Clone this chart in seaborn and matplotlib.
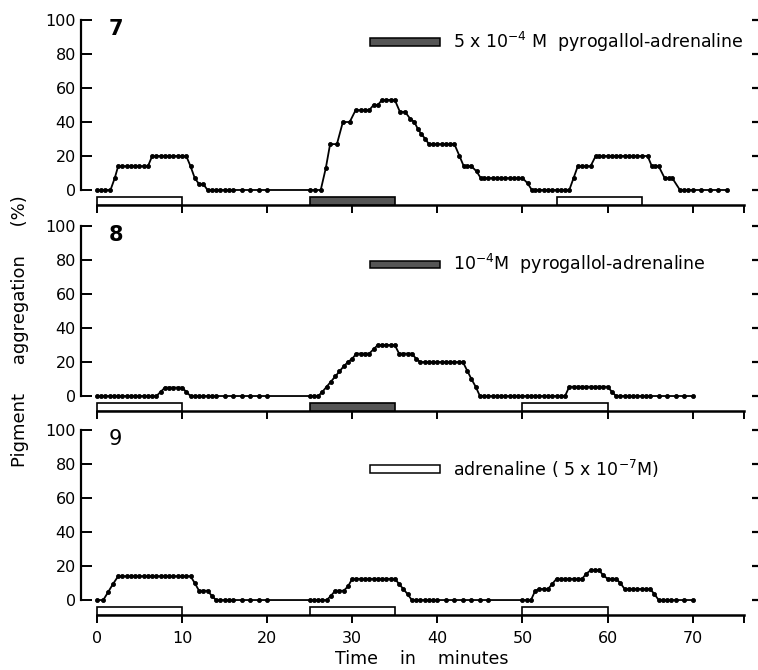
import numpy as np
import pandas as pd
import matplotlib
matplotlib.use("Agg")
import matplotlib.pyplot as plt
import seaborn as sns

sns.set_theme(style="white")
plt.rcParams["font.family"] = ["DejaVu Sans"]
plt.rcParams["text.color"] = "black"
plt.rcParams["axes.labelcolor"] = "black"
plt.rcParams["xtick.color"] = "black"
plt.rcParams["ytick.color"] = "black"

# ---------------- data ----------------
panel_ids = ["7", "8", "9"]
legend_texts = [
    "5 x 10$^{-4}$ M  pyrogallol-adrenaline",
    "10$^{-4}$M  pyrogallol-adrenaline",
    "adrenaline ( 5 x 10$^{-7}$M)",
]
legend_kinds = ["pyro", "pyro", "adr"]

x_ticks = [0, 10, 20, 30, 40, 50, 60, 70]
y_ticks = [0, 20, 40, 60, 80, 100]

t7 = [0, 0.5, 1, 1.6, 2.1, 2.5, 3, 3.5, 4, 4.5, 5, 5.5, 6,
      6.5, 7, 7.5, 8, 8.5, 9, 9.5, 10, 10.5,
      11, 11.5, 12, 12.5, 13, 13.5, 14, 14.5, 15, 15.5, 16, 17, 18, 19, 20,
      25, 25.6, 26.3, 26.9, 27.4, 28.2, 28.9, 29.7, 30.4, 31, 31.5, 32,
      32.5, 33, 33.5, 34, 34.5, 35, 35.6, 36.2, 36.8, 37.3, 37.7, 38.1, 38.6,
      39, 39.5, 40, 40.5, 41, 41.5, 42, 42.6, 43.1, 43.5, 44, 44.6, 45.1,
      45.5, 46, 46.5, 47, 47.5, 48, 48.5, 49, 49.5, 50, 50.6, 51.1,
      51.5, 52, 52.5, 53, 53.5, 54, 54.5, 55, 55.5, 56, 56.5, 57, 57.5, 58,
      58.6, 59, 59.5, 60, 60.5, 61, 61.5, 62, 62.5, 63, 63.5, 64, 64.7,
      65.2, 65.6, 66, 66.7, 67.2, 67.6, 68.5, 69, 69.5, 70, 71, 72, 73, 74]
v7 = [0, 0, 0, 0, 7, 14, 14, 14, 14, 14, 14, 14, 14,
      20, 20, 20, 20, 20, 20, 20, 20, 20,
      14, 7, 3.5, 3.5, 0, 0, 0, 0, 0, 0, 0, 0, 0, 0, 0,
      0, 0, 0, 13, 27, 27, 40, 40, 47, 47, 47, 47,
      50, 50, 53, 53, 53, 53, 46, 46, 42, 40, 36, 33, 30,
      27, 27, 27, 27, 27, 27, 27, 20, 14, 14, 14, 11, 7,
      7, 7, 7, 7, 7, 7, 7, 7, 7, 7, 4, 0,
      0, 0, 0, 0, 0, 0, 0, 0, 0, 7, 14, 14, 14, 14,
      20, 20, 20, 20, 20, 20, 20, 20, 20, 20, 20, 20, 20,
      14, 14, 14, 7, 7, 7, 0, 0, 0, 0, 0, 0, 0, 0]

t8 = [0, 0.5, 1, 1.5, 2, 2.5, 3, 3.5, 4, 4.5, 5, 5.5, 6, 6.5, 7,
      7.5, 8, 8.5, 9, 9.5, 10, 10.5,
      11, 11.5, 12, 12.5, 13, 13.5, 14, 15, 16, 17, 18, 19, 20,
      25, 25.5, 26, 26.5, 27, 27.5, 28, 28.5, 29, 29.5, 30, 30.5, 31, 31.5, 32,
      32.5, 33, 33.5, 34, 34.5, 35, 35.5, 36, 36.5, 37, 37.5, 38,
      38.5, 39, 39.5, 40, 40.5, 41, 41.5, 42, 42.5, 43, 43.5, 44, 44.5,
      45, 45.5, 46, 46.5, 47, 47.5, 48, 48.5, 49, 49.5, 50, 50.5, 51, 51.5, 52,
      52.5, 53, 53.5, 54, 54.5, 55,
      55.5, 56, 56.5, 57, 57.5, 58, 58.5, 59, 59.5, 60,
      60.5, 61, 61.5, 62, 62.5, 63, 63.5, 64, 64.5, 65, 66, 67, 68, 69, 70]
v8 = [0, 0, 0, 0, 0, 0, 0, 0, 0, 0, 0, 0, 0, 0, 0,
      2.5, 5, 5, 5, 5, 5, 2.5,
      0, 0, 0, 0, 0, 0, 0, 0, 0, 0, 0, 0, 0,
      0, 0, 0, 2.5, 5.5, 8.5, 11.5, 14.5, 17.5, 20, 22, 25, 25, 25, 25,
      27.5, 30, 30, 30, 30, 30, 25, 25, 25, 25, 22, 20,
      20, 20, 20, 20, 20, 20, 20, 20, 20, 20, 15, 10, 5.5,
      0, 0, 0, 0, 0, 0, 0, 0, 0, 0, 0, 0, 0, 0, 0,
      0, 0, 0, 0, 0, 0,
      5.5, 5.5, 5.5, 5.5, 5.5, 5.5, 5.5, 5.5, 5.5, 5.5,
      2.5, 0, 0, 0, 0, 0, 0, 0, 0, 0, 0, 0, 0, 0, 0]

t9 = [0, 0.75, 1.3, 1.9, 2.5, 3, 3.5, 4, 4.5, 5, 5.5, 6, 6.5, 7, 7.5, 8, 8.5, 9, 9.5, 10, 10.5, 11,
      11.5, 12, 12.5, 13, 13.5, 14, 14.5, 15, 15.5, 16, 17, 18, 19, 20,
      25, 25.5, 26, 26.5, 27, 27.5, 28, 28.5, 29, 29.5, 30, 30.5, 31, 31.5, 32, 32.5, 33, 33.5, 34, 34.5, 35,
      35.5, 36, 36.5, 37, 37.5, 38, 38.5, 39, 39.5, 40, 41, 42, 43, 44, 45, 46,
      50, 50.5, 51, 51.5, 52, 52.5, 53, 53.5, 54, 54.5, 55, 55.5, 56, 56.5, 57,
      57.5, 58, 58.5, 59, 59.5, 60, 60.5, 61, 61.5, 62, 62.5, 63, 63.5, 64, 64.5, 65,
      65.5, 66, 66.5, 67, 67.5, 68, 69, 70]
v9 = [0, 0, 4.5, 9.5, 14, 14, 14, 14, 14, 14, 14, 14, 14, 14, 14, 14, 14, 14, 14, 14, 14, 14,
      10, 5.5, 5.5, 5.5, 2.5, 0, 0, 0, 0, 0, 0, 0, 0, 0,
      0, 0, 0, 0, 0, 2.5, 5.5, 5.5, 5.5, 8, 12.5, 12.5, 12.5, 12.5, 12.5, 12.5, 12.5, 12.5, 12.5, 12.5, 12.5,
      9.5, 6.5, 3.5, 0, 0, 0, 0, 0, 0, 0, 0, 0, 0, 0, 0, 0,
      0, 0, 0, 5.5, 6.5, 6.5, 6.5, 9.5, 12.5, 12.5, 12.5, 12.5, 12.5, 12.5, 12.5,
      15.5, 17.5, 17.5, 17.5, 14.5, 12.5, 12.5, 12.5, 10, 6.5, 6.5, 6.5, 6.5, 6.5, 6.5, 6.5,
      3.5, 0, 0, 0, 0, 0, 0, 0]

# treatment periods (minutes)
bar_start7 = [0, 25, 54]
bar_end7 = [10, 35, 64]
bar_kind7 = ["adr", "pyro", "adr"]
bar_start8 = [0, 25, 50]
bar_end8 = [10, 35, 60]
bar_kind8 = ["adr", "pyro", "adr"]
bar_start9 = [0, 25, 50]
bar_end9 = [10, 35, 60]
bar_kind9 = ["adr", "adr", "adr"]

for a, b in [(t7, v7), (t8, v8), (t9, v9)]:
    assert len(a) == len(b), (len(a), len(b))

series = [(t7, v7), (t8, v8), (t9, v9)]
bars = [(bar_start7, bar_end7, bar_kind7),
        (bar_start8, bar_end8, bar_kind8),
        (bar_start9, bar_end9, bar_kind9)]

# ---------------- style ----------------
fill = {"adr": "white", "pyro": "#555555"}
legend_y = [87, 77.5, 77]
num_weight = ["bold", "bold", "normal"]

fig = plt.figure(figsize=(7.58, 6.70), dpi=100)
H = 0.279
bottoms = [0.6936, 0.3861, 0.0816]
left = 80.7 / 758
width = (752.3 - 80.7) / 758

for i in range(3):
    ax = fig.add_axes([left, bottoms[i], width, H])
    t, v = series[i]
    df = pd.DataFrame({"t": t, "v": v})
    sns.lineplot(data=df, x="t", y="v", ax=ax, color="black", linewidth=1.3,
                 marker="o", markersize=2.9, markeredgewidth=0.6,
                 markerfacecolor="black", markeredgecolor="black",
                 estimator=None, sort=False, zorder=4)
    bs, be, bk = bars[i]
    ax.bar(x=bs, height=4.8, width=np.array(be) - np.array(bs), bottom=-8.8,
           align="edge", color=[fill[k] for k in bk], edgecolor="black",
           linewidth=1.2, zorder=3)

    # legend-like key
    ax.bar(x=[32.1], height=4.4, width=8.2, bottom=legend_y[i] - 2.2,
           align="edge", color=fill[legend_kinds[i]], edgecolor="black",
           linewidth=1.1, zorder=3)
    ax.text(41.8, legend_y[i], legend_texts[i], fontsize=12.5, va="center",
            ha="left", color="black")
    ax.text(2.2, 95, panel_ids[i], fontsize=15, fontweight=num_weight[i],
            va="center", ha="center", color="black")

    ax.set_xlim(-1.9, 77)
    ax.set_ylim(-9, 101)
    ax.set_xlabel("")
    ax.set_ylabel("")
    for s in ["top", "right"]:
        ax.spines[s].set_visible(False)
    ax.spines["left"].set_bounds(0, 100)
    ax.spines["bottom"].set_bounds(0, 76)
    ax.spines["left"].set_linewidth(1.6)
    ax.spines["bottom"].set_linewidth(1.8)
    ax.spines["left"].set_color("black")
    ax.spines["bottom"].set_color("black")

    ax.set_yticks(y_ticks)
    ax.set_yticklabels([str(y) for y in y_ticks])
    ax.tick_params(axis="y", direction="in", length=8, width=1.4, labelsize=11.5,
                   pad=3.5, left=True, right=False, colors="black")
    ax.set_xticks(x_ticks)
    ax.set_xticks([76], minor=True)
    ax.tick_params(axis="x", which="both", direction="out", length=6, width=1.4,
                   labelsize=11.5, pad=5, bottom=True, colors="black",
                   labelbottom=(i == 2))
    ax.set_xticklabels([str(x) for x in x_ticks])

    ax2 = ax.twinx()
    ax2.set_ylim(-9, 101)
    ax2.set_yticks(y_ticks)
    ax2.tick_params(axis="y", direction="out", length=5, width=1.6, labelright=False,
                    right=True, colors="black")
    for s in ax2.spines.values():
        s.set_visible(False)
    ax2.grid(False)
    ax.grid(False)

fig.text(0.557, 0.016, "Time    in    minutes", fontsize=12.5, ha="center",
         va="center", color="black")
fig.text(0.027, 0.506, "Pigment     aggregation     (%)", fontsize=13, rotation=90,
         ha="center", va="center", color="black")

fig.savefig("out.png", dpi=100, facecolor="white")
